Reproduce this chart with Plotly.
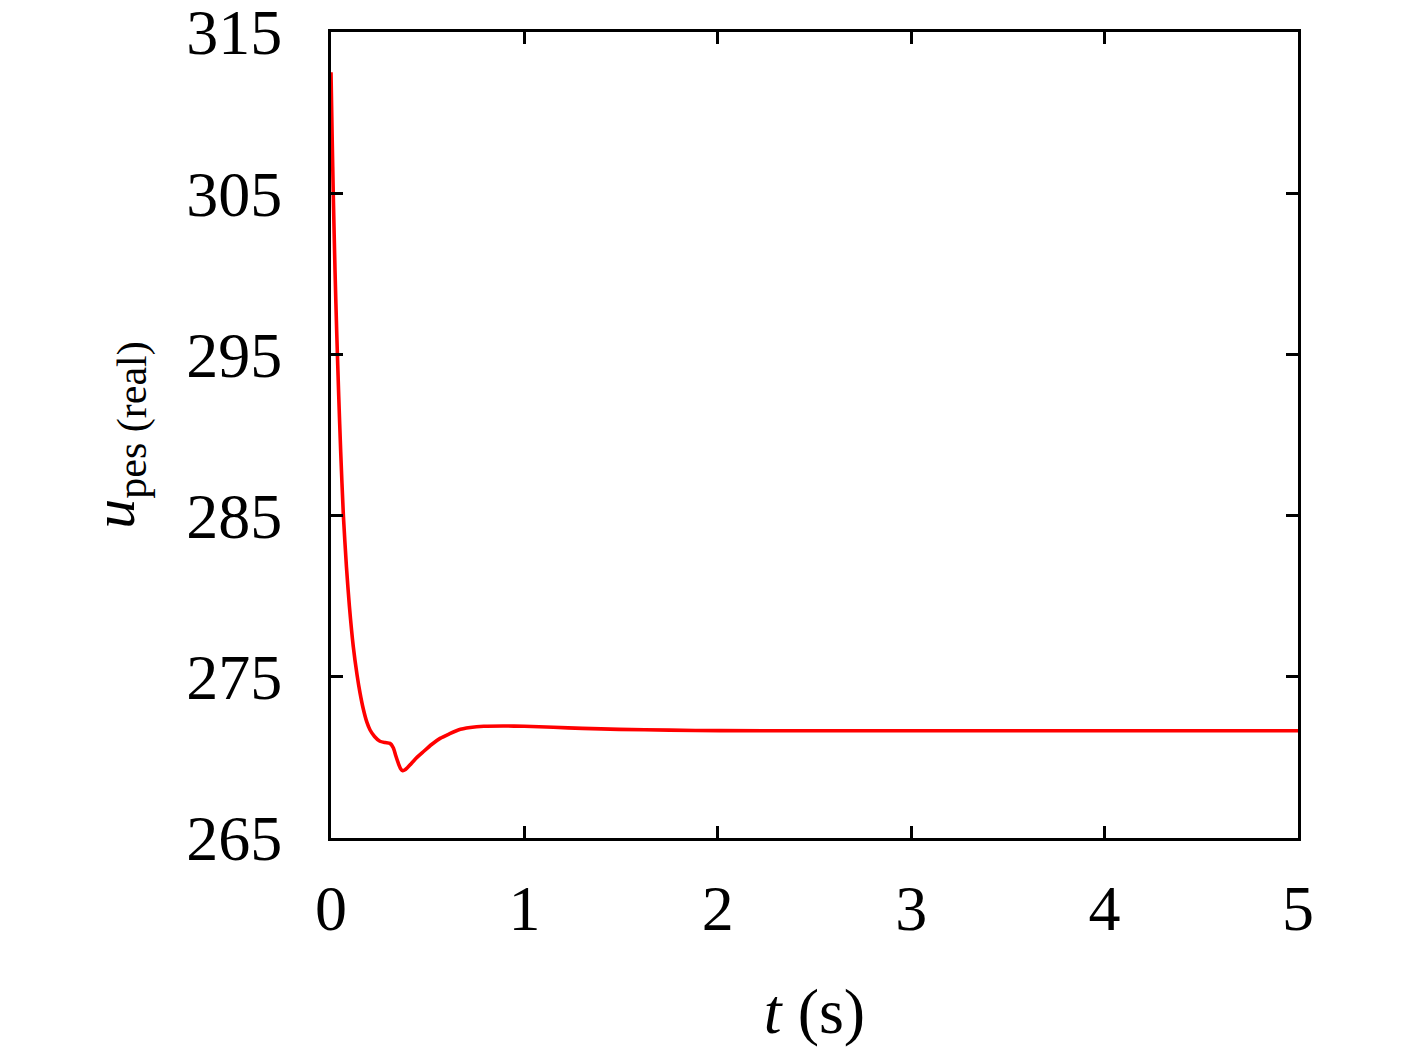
import plotly.graph_objects as go

t_s = [0.0, 0.006, 0.012, 0.021, 0.03, 0.04, 0.05, 0.064, 0.08, 0.095, 0.115, 0.135, 0.15, 0.167,
       0.185, 0.202, 0.225, 0.253, 0.28, 0.305, 0.322, 0.335, 0.348, 0.36, 0.371, 0.385,
       0.408, 0.44, 0.477, 0.52, 0.564, 0.61, 0.658, 0.72, 0.79, 0.89, 1.0, 1.15, 1.3,
       1.49, 1.75, 2.01, 2.5, 3.0, 3.5, 4.0, 4.5, 5.0]
u_pes = [312.5, 308.5, 304.8, 300.1, 296.2, 292.4, 289.0, 285.0, 281.8, 279.4, 276.9, 275.1, 274.0, 273.0,
         272.2, 271.7, 271.3, 271.0, 270.92, 270.87, 270.6, 270.1, 269.64, 269.3, 269.18, 269.25,
         269.53, 269.95, 270.35, 270.8, 271.18, 271.45, 271.7, 271.85, 271.93, 271.95, 271.93, 271.87, 271.8,
         271.74, 271.69, 271.66, 271.65, 271.65, 271.65, 271.65, 271.65, 271.65]

x_ticks = [0, 1, 2, 3, 4, 5]
y_ticks = [265, 275, 285, 295, 305, 315]

font_family = "Liberation Serif, Times New Roman, serif"

fig = go.Figure()
fig.add_trace(go.Scatter(x=t_s, y=u_pes, mode="lines",
                         line=dict(color="#ff0000", width=3.6, shape="spline", smoothing=0.6),
                         showlegend=False))

axis_common = dict(showline=True, linecolor="black", linewidth=3, mirror="ticks", ticks="inside",
                   ticklen=12, tickwidth=3, tickcolor="black", showgrid=False, zeroline=False,
                   ticklabeloverflow="allow", automargin=False,
                   tickfont=dict(family=font_family, size=64, color="black"))

fig.update_xaxes(range=[0, 5], tickvals=x_ticks, ticktext=[str(v) for v in x_ticks],
                 ticklabelstandoff=12,
                 title=dict(text="<i>t</i> (s)", font=dict(family=font_family, size=64, color="black"), standoff=46),
                 **axis_common)
fig.update_yaxes(range=[265, 315], tickvals=y_ticks, ticktext=[str(v) for v in y_ticks],
                 ticklabelstandoff=33,
                 title=dict(text="<i>u</i><sub>pes (real)</sub>", font=dict(family=font_family, size=60, color="black"), standoff=33),
                 **axis_common)

fig.update_layout(width=1417, height=1058, margin=dict(l=331, r=119, t=32, b=220),
                  paper_bgcolor="white", plot_bgcolor="white")

post = ("document.body.style.margin='0';document.body.style.padding='0';"
        "var d=document.getElementById('{plot_id}');d.style.position='absolute';"
        "d.style.top='0px';d.style.left='0px';")
fig.write_html("out.html", post_script=post, config={"displayModeBar": False})
